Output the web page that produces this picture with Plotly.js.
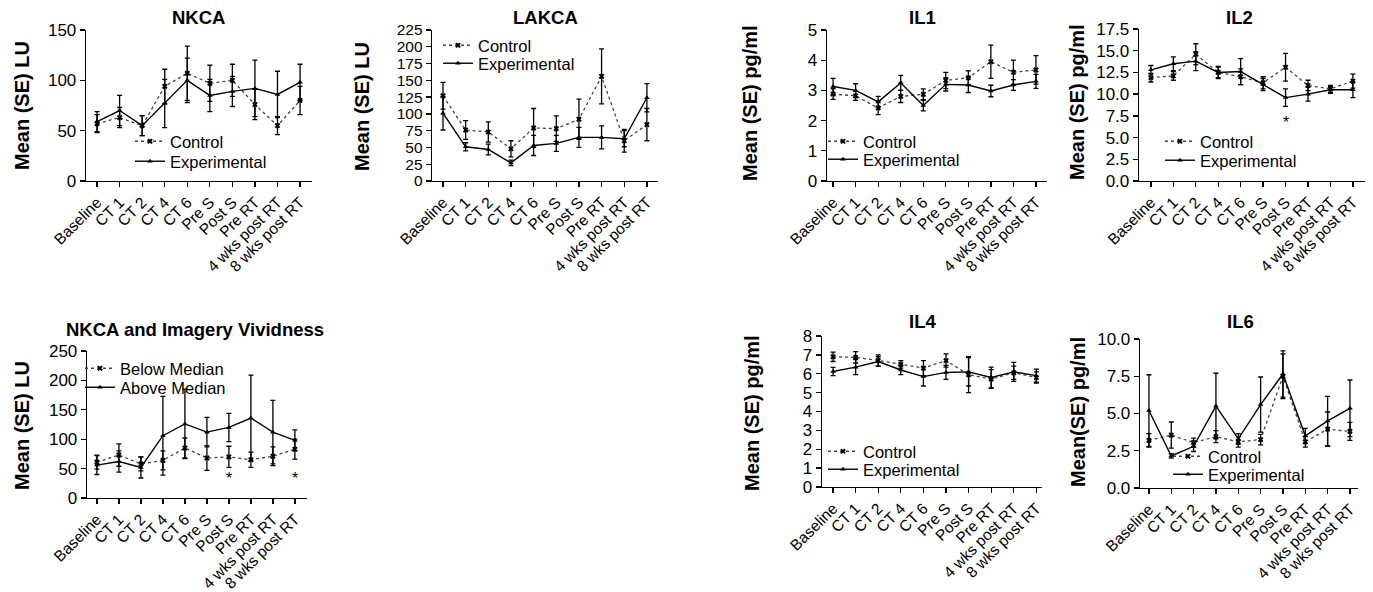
<!DOCTYPE html>
<html>
<head>
<meta charset="utf-8">
<script src="https://cdn.plot.ly/plotly-3.0.1.min.js"></script>
<style>html,body{margin:0;padding:0;background:#fff;}#chart{width:1373px;height:592px;}</style>
</head>
<body>
<div id="chart"></div>
<script>
// ---------- DATA ----------
const categories = ['Baseline','CT 1','CT 2','CT 4','CT 6','Pre S','Post S','Pre RT','4 wks post RT','8 wks post RT'];

const nkcaControl   = [57, 63, 55, 94, 107, 97, 100, 76, 55, 80];
const nkcaControlSE = [9, 10, 10, 17, 27, 18, 16, 15, 9, 14];
const nkcaExp       = [59, 70, 55, 77, 100, 85, 89, 92, 86, 98];
const nkcaExpSE     = [10, 15, 10, 24, 22, 16, 15, 28, 23, 18];

const lakcaControl   = [127, 76, 73, 48, 79, 78, 92, 156, 60, 84];
const lakcaControlSE = [20, 14, 15, 12, 29, 19, 30, 41, 17, 24];
const lakcaExp       = [101, 51, 47, 27, 53, 56, 65, 65, 63, 124];
const lakcaExpSE     = [25, 6, 8, 4, 15, 12, 15, 17, 12, 21];

const il1Control   = [2.88, 2.82, 2.42, 2.8, 2.87, 3.33, 3.42, 3.95, 3.6, 3.68];
const il1ControlSE = [0.18, 0.15, 0.22, 0.2, 0.18, 0.27, 0.23, 0.55, 0.4, 0.47];
const il1Exp       = [3.13, 3.0, 2.62, 3.25, 2.5, 3.2, 3.18, 2.98, 3.18, 3.3];
const il1ExpSE     = [0.27, 0.22, 0.18, 0.25, 0.18, 0.22, 0.25, 0.19, 0.18, 0.23];

const il2Control   = [11.9, 12.1, 14.6, 12.5, 12.0, 11.3, 13.1, 11.0, 10.6, 11.5];
const il2ControlSE = [0.5, 0.5, 1.2, 0.6, 0.9, 0.7, 1.6, 0.6, 0.4, 0.8];
const il2Exp       = [12.8, 13.5, 13.8, 12.5, 12.6, 11.1, 9.6, 10.0, 10.5, 10.5];
const il2ExpSE     = [0.5, 0.8, 1.1, 0.7, 1.5, 0.7, 1.0, 0.8, 0.4, 0.9];
const il2StarCats  = ['Post S'];
const il2StarVals  = [6.7];

const belowMedian   = [61, 73, 58, 64, 85, 68, 70, 65, 71, 83];
const belowMedianSE = [12, 19, 12, 16, 17, 21, 18, 13, 16, 17];
const aboveMedian   = [56, 62, 52, 106, 126, 112, 120, 136, 112, 98];
const aboveMedianSE = [16, 18, 18, 67, 59, 25, 24, 73, 54, 18];
const vividStarCats = ['Post S', '8 wks post RT'];
const vividStarVals = [33, 33];

const il4Control   = [6.9, 6.87, 6.7, 6.5, 6.3, 6.7, 5.95, 5.72, 6.05, 5.8];
const il4ControlSE = [0.25, 0.3, 0.3, 0.2, 0.4, 0.35, 0.95, 0.5, 0.35, 0.3];
const il4Exp       = [6.12, 6.35, 6.65, 6.2, 5.85, 6.07, 6.1, 5.8, 6.1, 5.9];
const il4ExpSE     = [0.22, 0.4, 0.25, 0.25, 0.5, 0.37, 0.75, 0.55, 0.5, 0.35];

const il6Control   = [3.2, 3.55, 3.05, 3.45, 3.1, 3.25, 7.5, 3.1, 3.95, 3.8];
const il6ControlSE = [0.45, 0.88, 0.3, 0.4, 0.35, 0.35, 1.5, 0.35, 1.15, 0.6];
const il6Exp       = [5.2, 2.15, 2.8, 5.5, 3.3, 5.6, 7.65, 3.5, 4.5, 5.35];
const il6ExpSE     = [2.4, 0.15, 0.35, 2.2, 0.35, 1.85, 1.55, 0.5, 1.65, 1.9];

// ---------- LAYOUT HELPERS ----------
const W = 1373, H = 592;
const FONT = 'Arial, "Liberation Sans", sans-serif';
const px = v => v / W;
const py = v => 1 - v / H;

const panels = [
  {title:'NKCA', ytitle:'Mean (SE) LU', names:['Control','Experimental'],
   a:nkcaControl, aSE:nkcaControlSE, b:nkcaExp, bSE:nkcaExpSE,
   box:[86,312,30,181], xr:[-0.49,9.53], yr:[0,150], dtick:50, fmt:'', tfs:17,
   tpos:[198,17], ypos:[22,106], leg:[[170,141],[170,161]]},
  {title:'LAKCA', ytitle:'Mean (SE) LU', names:['Control','Experimental'],
   a:lakcaControl, aSE:lakcaControlSE, b:lakcaExp, bSE:lakcaExpSE,
   box:[432,658,30,181], xr:[-0.485,9.49], yr:[0,225], dtick:25, fmt:'', tfs:15.5,
   tpos:[545,17], ypos:[362,107], leg:[[478,45],[478,63]]},
  {title:'IL1', ytitle:'Mean (SE) pg/ml', names:['Control','Experimental'],
   a:il1Control, aSE:il1ControlSE, b:il1Exp, bSE:il1ExpSE,
   box:[827,1047,30,181], xr:[-0.27,9.49], yr:[0,5], dtick:1, fmt:'', tfs:17,
   tpos:[922,17], ypos:[750,103], leg:[[863,141],[863,159]]},
  {title:'IL2', ytitle:'Mean (SE) pg/ml', names:['Control','Experimental'],
   a:il2Control, aSE:il2ControlSE, b:il2Exp, bSE:il2ExpSE,
   box:[1139,1365,29,181], xr:[-0.53,9.54], yr:[0,17.5], dtick:2.5, fmt:'.1f', tfs:17,
   tpos:[1239,17], ypos:[1077,102], leg:[[1200,141],[1200,160]], stars:[il2StarCats, il2StarVals]},
  {title:'NKCA and Imagery Vividness', ytitle:'Mean (SE) LU', names:['Below Median','Above Median'],
   a:belowMedian, aSE:belowMedianSE, b:aboveMedian, bSE:aboveMedianSE,
   box:[87,307,351,498], xr:[-0.45,9.55], yr:[0,250], dtick:50, fmt:'', tfs:17,
   tpos:[195,329], ypos:[22,426], leg:[[120,368],[120,387]], stars:[vividStarCats, vividStarVals]},
  {title:'IL4', ytitle:'Mean (SE) pg/ml', names:['Control','Experimental'],
   a:il4Control, aSE:il4ControlSE, b:il4Exp, bSE:il4ExpSE,
   box:[822,1042,336,487], xr:[-0.49,9.25], yr:[0,8], dtick:1, fmt:'', tfs:17,
   tpos:[922,321], ypos:[752,413], leg:[[863,451],[863,469]]},
  {title:'IL6', ytitle:'Mean(SE) pg/ml', names:['Control','Experimental'],
   a:il6Control, aSE:il6ControlSE, b:il6Exp, bSE:il6ExpSE,
   box:[1140,1358,339,488], xr:[-0.4,9.36], yr:[0,10], dtick:2.5, fmt:'.1f', tfs:17,
   tpos:[1240,321], ypos:[1078,412], leg:[[1208,456],[1208,474]]}
];

const traces = [];
const annotations = [];
const layout = {
  width: W, height: H,
  margin: {l:0, r:0, t:0, b:0},
  paper_bgcolor: '#fff', plot_bgcolor: 'rgba(0,0,0,0)',
  font: {family: FONT, color: '#000'},
  showlegend: true,
  annotations: annotations
};

let legCount = 0;
function addLegend(pos) {
  legCount += 1;
  const id = legCount === 1 ? 'legend' : 'legend' + legCount;
  layout[id] = {
    x: px(pos[0] - 40), y: py(pos[1] - 17), xanchor:'left', yanchor:'top',
    bgcolor:'rgba(0,0,0,0)', borderwidth:0, itemwidth:30, tracegroupgap:0,
    font:{family:FONT, size:16.5, color:'#000'}
  };
  return id;
}

panels.forEach((p, i) => {
  const n = i + 1;
  const xa = n === 1 ? 'x' : 'x' + n;
  const ya = n === 1 ? 'y' : 'y' + n;
  const errStyle = {type:'data', visible:true, color:'#000', thickness:1.3, width:2.5};

  traces.push({
    type:'scatter', mode:'lines+markers', x:categories, y:p.a, name:p.names[0],
    xaxis:xa, yaxis:ya, legend:addLegend(p.leg[0]),
    line:{color:'#444', width:1.3, dash:'dot'},
    marker:{symbol:'x', size:5, color:'#000'},
    error_y:Object.assign({array:p.aSE}, errStyle), cliponaxis:false
  });
  traces.push({
    type:'scatter', mode:'lines+markers', x:categories, y:p.b, name:p.names[1],
    xaxis:xa, yaxis:ya, legend:addLegend(p.leg[1]),
    line:{color:'#000', width:1.4},
    marker:{symbol:'triangle-up', size:5, color:'#000'},
    error_y:Object.assign({array:p.bSE}, errStyle), cliponaxis:false
  });

  const [x0, x1, y0, y1] = p.box;
  layout[n === 1 ? 'xaxis' : 'xaxis' + n] = {
    domain:[px(x0), px(x1)], anchor:ya, type:'category',
    range:p.xr, showgrid:false, zeroline:false, showline:true,
    linecolor:'#000', linewidth:1.3, ticks:'outside', ticklen:5, tickwidth:1.3, tickcolor:'#000',
    tickangle:-45, tickfont:{family:FONT, size:15.5, color:'#000'}, fixedrange:true
  };
  layout[n === 1 ? 'yaxis' : 'yaxis' + n] = {
    domain:[py(y1), py(y0)], anchor:xa,
    range:p.yr, dtick:p.dtick, tick0:0, tickformat:p.fmt, showgrid:false, zeroline:false, showline:true,
    linecolor:'#000', linewidth:1.3, ticks:'outside', ticklen:5, tickwidth:1.3, tickcolor:'#000',
    tickfont:{family:FONT, size:p.tfs, color:'#000'}, fixedrange:true
  };

  annotations.push({
    xref:'paper', yref:'paper', x:px(p.tpos[0]), y:py(p.tpos[1]), xanchor:'center', yanchor:'middle',
    text:'<b>' + p.title + '</b>', showarrow:false, font:{family:FONT, size:18.5, color:'#000'}
  });
  annotations.push({
    xref:'paper', yref:'paper', x:px(p.ypos[0]), y:py(p.ypos[1]), xanchor:'center', yanchor:'middle',
    text:'<b>' + p.ytitle + '</b>', textangle:-90, showarrow:false, font:{family:FONT, size:20, color:'#000'}
  });
  if (p.stars) {
    p.stars[0].forEach((c, k) => {
      annotations.push({
        xref:xa, yref:ya, x:categories.indexOf(c), y:p.stars[1][k], text:'*',
        showarrow:false, xanchor:'center', yanchor:'middle', font:{family:FONT, size:16, color:'#000'}
      });
    });
  }
});

Plotly.newPlot('chart', traces, layout, {staticPlot:true, displayModeBar:false});
</script>
</body>
</html>
